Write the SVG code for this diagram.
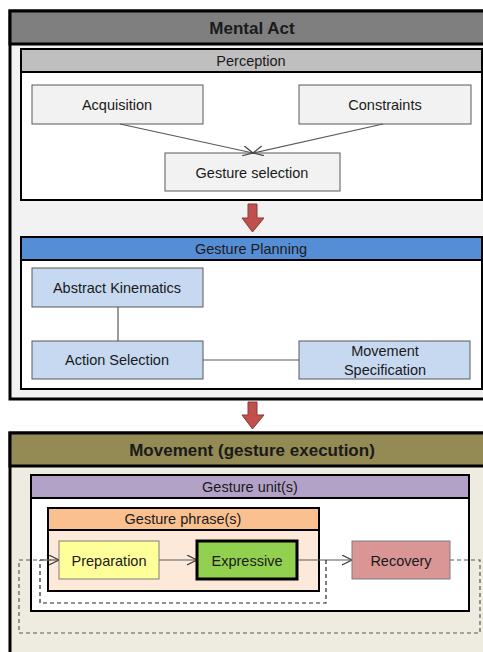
<svg xmlns="http://www.w3.org/2000/svg" width="483" height="652" viewBox="0 0 483 652">
<defs>
<style>
text{font-family:"Liberation Sans",Arial,sans-serif;fill:#1a1a1a;text-anchor:middle;dominant-baseline:central;font-size:14.5px}
.big{font-size:17px;font-weight:bold}
.gnode{fill:#f2f2f2;stroke:#595959;stroke-width:1}
.bnode{fill:#c6d9f1;stroke:#595959;stroke-width:1}
.conn{fill:none;stroke:#595959;stroke-width:1.2}
.dash{fill:none;stroke:#595959;stroke-width:1.2;stroke-dasharray:4 3}
.dash-in{fill:none;stroke:#262626;stroke-width:1.2;stroke-dasharray:4 3}
.redarrow{fill:#c0504d;stroke:#8c3836;stroke-width:1}
</style>
<marker id="open" markerWidth="12" markerHeight="12" refX="10" refY="5" orient="auto" markerUnits="userSpaceOnUse">
<path d="M0,0 L10,5 L0,10" fill="none" stroke="#404040" stroke-width="1.2"/>
</marker>
</defs>

<g id="mental-act">
<rect x="10" y="11" width="490" height="388" fill="#f2f2f2" stroke="#000" stroke-width="3"/>
<rect x="10" y="11" width="490" height="33" fill="#7f7f7f" stroke="#000" stroke-width="3"/>
<text class="big" x="252" y="28">Mental Act</text>
</g>

<g id="perception">
<rect x="21" y="49" width="461" height="151" fill="#fff" stroke="#000" stroke-width="2"/>
<rect x="21" y="49" width="461" height="23" fill="#bfbfbf" stroke="#000" stroke-width="2"/>
<text x="251" y="61">Perception</text>
</g>

<g id="acquisition">
<rect class="gnode" x="32" y="85" width="171" height="39"/>
<text x="117" y="105">Acquisition</text>
</g>
<g id="constraints">
<rect class="gnode" x="299" y="85" width="172" height="39"/>
<text x="385" y="105">Constraints</text>
</g>
<g id="gesture-selection">
<rect class="gnode" x="165" y="153" width="175" height="38"/>
<text x="252" y="173">Gesture selection</text>
</g>

<g id="arrow1">
<path class="redarrow" d="M248,204 H257 V218 H264 L252.5,232 L242,218 H248 Z"/>
</g>

<g id="gesture-planning">
<rect x="21" y="237" width="461" height="152" fill="#fff" stroke="#000" stroke-width="2"/>
<rect x="21" y="237" width="461" height="23" fill="#558ed5" stroke="#000" stroke-width="2"/>
<text x="251" y="249">Gesture Planning</text>
</g>

<g id="abstract-kinematics">
<rect class="bnode" x="32" y="268" width="171" height="39"/>
<text x="117" y="288">Abstract Kinematics</text>
</g>
<g id="action-selection">
<rect class="bnode" x="32" y="341" width="171" height="38"/>
<text x="117" y="360">Action Selection</text>
</g>
<g id="movement-specification">
<rect class="bnode" x="299" y="341" width="171" height="38"/>
<text x="385" y="351">Movement</text>
<text x="385" y="370">Specification</text>
</g>

<g id="arrow2">
<path class="redarrow" d="M248,402 H257 V415 H264 L252.5,429 L242,415 H248 Z"/>
</g>

<g id="movement">
<rect x="10" y="433" width="490" height="240" fill="#eeece1" stroke="#000" stroke-width="3"/>
<rect x="10" y="433" width="490" height="33" fill="#948a54" stroke="#000" stroke-width="3"/>
<text class="big" x="252" y="450">Movement (gesture execution)</text>
</g>

<g id="gesture-unit">
<rect x="31" y="475" width="438" height="136" fill="#fff" stroke="#000" stroke-width="2"/>
<rect x="31" y="475" width="438" height="23" fill="#b3a2c7" stroke="#000" stroke-width="2"/>
<text x="250" y="487">Gesture unit(s)</text>
</g>

<g id="gesture-phrase">
<rect x="48" y="508" width="271" height="83" fill="#fde9d9" stroke="#000" stroke-width="2"/>
<rect x="48" y="508" width="271" height="22" fill="#fac090" stroke="#000" stroke-width="2"/>
<text x="183" y="519">Gesture phrase(s)</text>
</g>

<g id="connectors">
<line class="conn" x1="120" y1="124" x2="253" y2="153" marker-end="url(#open)"/>
<line class="conn" x1="383" y1="124" x2="253" y2="153" marker-end="url(#open)"/>
<line class="conn" x1="118" y1="307" x2="118" y2="341"/>
<line class="conn" x1="203" y1="360" x2="299" y2="360"/>
<line class="conn" x1="159" y1="560" x2="197" y2="560" marker-end="url(#open)"/>
<line class="conn" x1="297" y1="560" x2="352" y2="560" marker-end="url(#open)"/>
<path class="dash-in" d="M326,560 V603 H40 V560"/>
<path class="dash" d="M450,560 H480 V633 H19 V560 H52"/>
<line class="conn" x1="40" y1="560" x2="59" y2="560" marker-end="url(#open)"/>
</g>

<g id="preparation">
<rect x="59" y="541" width="100" height="38" fill="#ffff99" stroke="#7f7f7f" stroke-width="1"/>
<text x="109" y="561">Preparation</text>
</g>
<g id="expressive">
<rect x="197" y="541" width="100" height="38" fill="#92d050" stroke="#000" stroke-width="3"/>
<text x="247" y="561">Expressive</text>
</g>
<g id="recovery">
<rect x="352" y="541" width="98" height="38" fill="#d99694" stroke="#7f7f7f" stroke-width="1"/>
<text x="401" y="561">Recovery</text>
</g>
</svg>
